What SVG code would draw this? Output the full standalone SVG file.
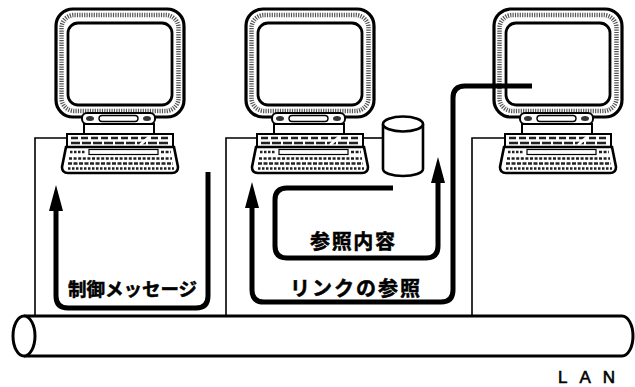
<svg xmlns="http://www.w3.org/2000/svg" width="635" height="387" viewBox="0 0 635 387">
  <style>
    .ln{fill:none;stroke:#000;stroke-width:1.6}
    .flow{fill:none;stroke:#000;stroke-width:5;stroke-linejoin:round;stroke-linecap:butt}
    .frame{fill:#fff;stroke:#000;stroke-width:3.2}
    .part{fill:#fff;stroke:#000;stroke-width:2}
    .band{fill:none;stroke:#555;stroke-width:4.5;stroke-dasharray:1.2 1.2}
    .keys{fill:none;stroke:#222;stroke-width:2.4;stroke-dasharray:3 1.6}
    .lbl{font-family:"Noto Sans CJK JP","Noto Sans CJK SC",sans-serif;font-weight:700;fill:#000;stroke:#000;stroke-width:0.5}
    .lan{font-family:"Liberation Sans",Arial,sans-serif;font-size:17px;fill:#000;stroke:#000;stroke-width:0.6}
  </style>
  <defs>
    <marker id="ah" viewBox="0 0 26 14" refX="1" refY="7" markerWidth="26" markerHeight="14" markerUnits="userSpaceOnUse" orient="auto">
      <path d="M0,0 L26,7 L0,14 Z" fill="#000"/>
    </marker>
    <!-- workstation: monitor, stand and keyboard -->
    <g id="pc">
      <rect class="frame" x="56" y="9" width="128" height="108" rx="17"/>
      <rect class="band" x="61.5" y="15" width="117" height="96" rx="13"/>
      <rect x="68" y="23" width="104" height="82" rx="10" fill="#fff" stroke="#000" stroke-width="2.8"/>
      <!-- stand -->
      <rect class="part" x="82" y="113" width="73" height="11" rx="5"/>
      <rect x="99" y="115.5" width="39" height="6" rx="3" fill="#fff" stroke="#000" stroke-width="1.4"/>
      <ellipse cx="90" cy="118.5" rx="4" ry="2.5" fill="#333"/>
      <ellipse cx="147" cy="118.5" rx="4" ry="2.5" fill="#333"/>
      <rect class="part" x="84" y="124" width="70" height="10"/>
      <!-- keyboard -->
      <rect class="part" x="67" y="134" width="106" height="13"/>
      <line class="keys" x1="71" y1="138" x2="169" y2="138" style="stroke-dasharray:7 3"/>
      <line class="keys" x1="71" y1="143" x2="169" y2="143" style="stroke-dasharray:9 2"/>
      <path d="M140,145 L150,136" stroke="#fff" stroke-width="2.5"/>
      <path d="M66,147 H174 L178,167 Q178,173 172,173 H68 Q62,173 62,167 Z" fill="#fff" stroke="#000" stroke-width="2.6"/>
      <line class="keys" x1="70" y1="152" x2="86" y2="152" style="stroke-dasharray:2.5 1.5"/>
      <rect x="89" y="149.5" width="69" height="5" fill="#fff" stroke="#000" stroke-width="1.2"/>
      <line class="keys" x1="161" y1="152" x2="171" y2="152"/>
      <line class="keys" x1="69" y1="158.5" x2="172" y2="158.5"/>
      <line class="keys" x1="68" y1="163.5" x2="173" y2="163.5" style="stroke-dasharray:4 1.5"/>
      <line class="keys" x1="68" y1="168.5" x2="174" y2="168.5" style="stroke-dasharray:2.5 1.5"/>
    </g>
  </defs>

  <!-- LAN cable -->
  <g id="lan">
    <path d="M24,316 H622 A11,20 0 0 1 622,356 H24" fill="#fff" stroke="#000" stroke-width="3"/>
    <ellipse cx="24" cy="336" rx="11" ry="20" fill="#fff" stroke="#000" stroke-width="3"/>
    <text class="lan" x="558" y="383" textLength="57" lengthAdjust="spacing">LAN</text>
  </g>

  <!-- station 1 -->
  <g id="station1">
    <path class="ln" d="M35,316 V138 H67"/>
    <use href="#pc"/>
  </g>

  <!-- station 2 with local disk -->
  <g id="station2">
    <path class="ln" d="M226,316 V138 H257"/>
    <path class="ln" d="M363,138 H384"/>
    <use href="#pc" x="190"/>
  </g>
  <g id="disk">
    <path d="M383,124 V169 A20,7 0 0 0 423,169 V124" fill="#fff" stroke="#000" stroke-width="2.6"/>
    <ellipse cx="403" cy="124" rx="20" ry="7.5" fill="#fff" stroke="#000" stroke-width="2.6"/>
  </g>

  <!-- station 3 -->
  <g id="station3">
    <path class="ln" d="M472,316 V138 H505"/>
    <use href="#pc" x="438"/>
  </g>

  <!-- message flows -->
  <g id="connectors">
    <path class="flow" d="M208,172 V296 Q208,308 196,308 H68 Q56,308 56,296 V210" marker-end="url(#ah)"/>
    <path class="flow" d="M532,86 H465 Q453,86 453,98 V290 Q453,302 441,302 H264 Q252,302 252,290 V207" marker-end="url(#ah)"/>
    <path class="flow" d="M393,188 H287 Q275,188 275,200 V246 Q275,258 287,258 H426 Q438,258 438,246 V182" marker-end="url(#ah)"/>
  </g>

  <!-- labels -->
  <g id="labels">
    <text class="lbl" x="68" y="296" font-size="18.5" textLength="129" lengthAdjust="spacing">制御メッセージ</text>
    <text class="lbl" x="310" y="249" font-size="20" textLength="85" lengthAdjust="spacing">参照内容</text>
    <text class="lbl" x="290" y="296" font-size="20" textLength="130" lengthAdjust="spacing">リンクの参照</text>
  </g>
</svg>
